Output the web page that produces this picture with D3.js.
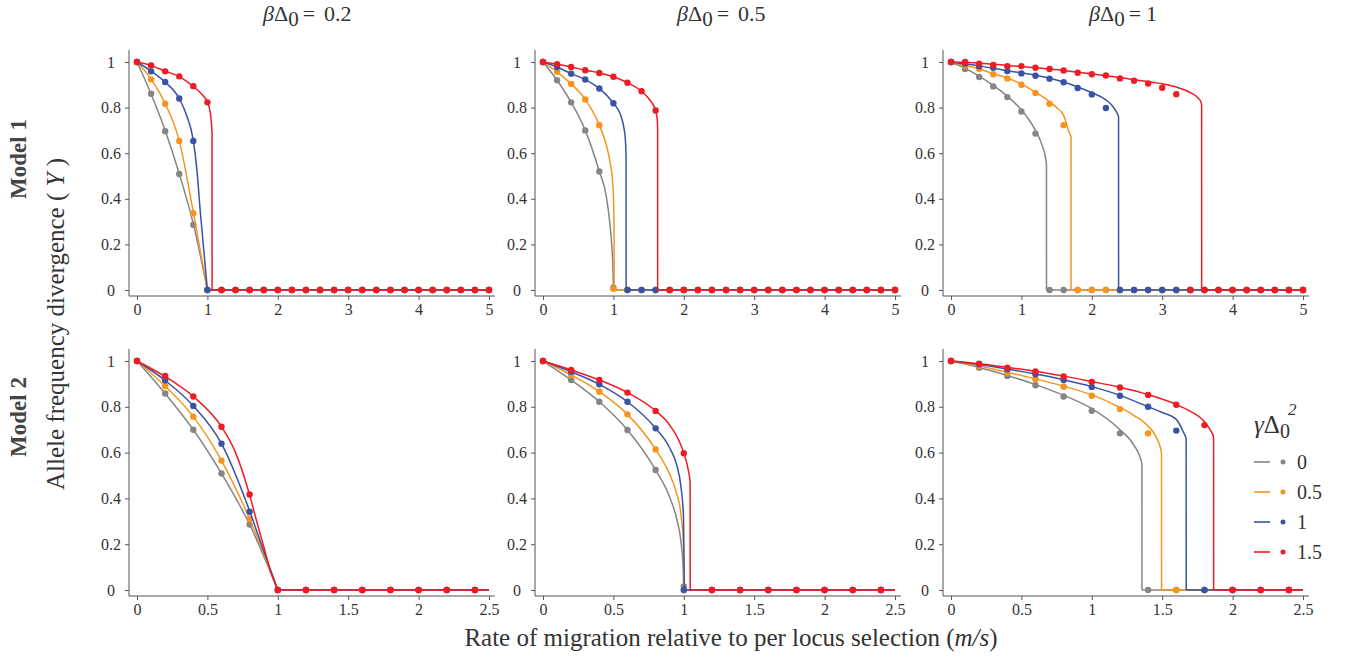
<!DOCTYPE html>
<html>
<head>
<meta charset="utf-8">
<script src="https://cdn.jsdelivr.net/npm/d3@7"></script>
<style>
  body { margin: 0; background: #fff; }
  svg { display: block; }
  text { font-family: "Liberation Serif", "Times New Roman", serif; }
  .tick text { fill: #333; font-size: 16px; font-family: "Liberation Serif", "Times New Roman", serif; }
  .tick line { stroke: #555; }
</style>
</head>
<body>
<svg id="chart" width="1351" height="659"></svg>
<script>
// ---- data ----
const seriesLabels = ['0', '0.5', '1', '1.5'];
const seriesColors = ['#858585', '#f7941d', '#3953a4', '#ed1c24'];
const colTitles = ['0.2', '0.5', '1'];
const rowTitles = ['Model 1', 'Model 2'];

const xTop = [0,0.2,0.4,0.6,0.8,1,1.2,1.4,1.6,1.8,2,2.2,2.4,2.6,2.8,3,3.2,3.4,3.6,3.8,4,4.2,4.4,4.6,4.8,5];
const xBottom = [0,0.2,0.4,0.6,0.8,1,1.2,1.4,1.6,1.8,2,2.2,2.4];
const xTicksTop = [0, 1, 2, 3, 4, 5];
const xTicksBottom = [0, 0.5, 1, 1.5, 2, 2.5];
const yTicks = [0, 0.2, 0.4, 0.6, 0.8, 1];

// simulation dots (one row of y per series: gray, orange, blue, red)
const p1Dots = [
  [1,0.861,0.696,0.509,0.286,0,0,0,0,0,0,0,0,0,0,0,0,0,0,0,0,0,0,0,0,0],
  [1,0.924,0.817,0.654,0.337,0,0,0,0,0,0,0,0,0,0,0,0,0,0,0,0,0,0,0,0,0],
  [1,0.959,0.912,0.840,0.654,0,0,0,0,0,0,0,0,0,0,0,0,0,0,0,0,0,0,0,0,0],
  [1,0.985,0.959,0.937,0.894,0.823,0,0,0,0,0,0,0,0,0,0,0,0,0,0,0,0,0,0,0,0]
];
const p2Dots = [
  [1,0.920,0.823,0.700,0.520,0.01,0,0,0,0,0,0,0,0,0,0,0,0,0,0,0,0,0,0,0,0],
  [1,0.957,0.904,0.836,0.723,0.005,0,0,0,0,0,0,0,0,0,0,0,0,0,0,0,0,0,0,0,0],
  [1,0.978,0.949,0.923,0.884,0.819,0,0,0,0,0,0,0,0,0,0,0,0,0,0,0,0,0,0,0,0],
  [1,0.990,0.978,0.964,0.952,0.935,0.909,0.872,0.787,0,0,0,0,0,0,0,0,0,0,0,0,0,0,0,0,0]
];
const p3Dots = [
  [1,0.969,0.934,0.893,0.846,0.783,0.686,0,0,0,0,0,0,0,0,0,0,0,0,0,0,0,0,0,0,0],
  [1,0.984,0.969,0.946,0.928,0.900,0.864,0.817,0.723,0,0,0,0,0,0,0,0,0,0,0,0,0,0,0,0,0],
  [1,0.993,0.981,0.975,0.960,0.950,0.940,0.927,0.911,0.886,0.858,0.798,0,0,0,0,0,0,0,0,0,0,0,0,0,0],
  [1,1.0,0.993,0.987,0.982,0.982,0.975,0.969,0.963,0.953,0.946,0.941,0.928,0.918,0.906,0.887,0.859,0,0,0,0,0,0,0,0,0]
];
const p4Dots = [
  [1,0.858,0.700,0.509,0.286,0,0,0,0,0,0,0,0],
  [1,0.891,0.757,0.565,0.310,0,0,0,0,0,0,0,0],
  [1,0.916,0.804,0.639,0.342,0,0,0,0,0,0,0,0],
  [1,0.935,0.845,0.713,0.417,0,0,0,0,0,0,0,0]
];
const p5Dots = [
  [1,0.917,0.822,0.699,0.524,0.015,0,0,0,0,0,0,0],
  [1,0.939,0.866,0.767,0.614,0,0,0,0,0,0,0,0],
  [1,0.953,0.898,0.822,0.706,0,0,0,0,0,0,0,0],
  [1,0.961,0.917,0.862,0.782,0.597,0,0,0,0,0,0,0]
];
const p6Dots = [
  [1,0.971,0.935,0.894,0.845,0.783,0.684,0,0,0,0,0,0],
  [1,0.978,0.949,0.920,0.888,0.848,0.790,0.684,0,0,0,0,0],
  [1,0.986,0.964,0.942,0.917,0.887,0.848,0.800,0.696,0,0,0,0],
  [1,0.988,0.971,0.954,0.932,0.909,0.884,0.852,0.809,0.720,0,0,0]
];

// theory curves, [x, y] points per series
const p1Curves = [
  [[0,1],[0.2,0.86],[0.4,0.70],[0.6,0.51],[0.8,0.29],[1.0,0],[5,0]],
  [[0,1],[0.2,0.925],[0.4,0.818],[0.6,0.655],[0.8,0.34],[1.0,0],[5,0]],
  [[0,1],[0.2,0.96],[0.4,0.912],[0.6,0.84],[0.7,0.77],[0.8,0.655],[0.85,0.53],[0.9,0.34],[1.0,0],[5,0]],
  [[0,1],[0.2,0.985],[0.4,0.96],[0.6,0.936],[0.8,0.893],[0.9,0.865],[1.0,0.823],[1.04,0.78],[1.06,0.72],[1.066,0.68],[1.0665,0],[5,0]]
];
const p2Curves = [
  [[0,1],[0.2,0.92],[0.4,0.823],[0.6,0.70],[0.8,0.52],[0.9,0.41],[0.95,0.29],[0.98,0.18],[0.995,0.08],[1.0,0],[5,0]],
  [[0,1],[0.2,0.957],[0.4,0.904],[0.6,0.836],[0.8,0.723],[0.9,0.635],[0.95,0.565],[0.99,0.47],[1.005,0.36],[1.01,0.22],[1.0105,0],[5,0]],
  [[0,1],[0.2,0.978],[0.4,0.949],[0.6,0.923],[0.8,0.884],[1.0,0.819],[1.1,0.77],[1.15,0.71],[1.17,0.66],[1.18,0.58],[1.1805,0],[5,0]],
  [[0,1],[0.2,0.99],[0.4,0.978],[0.6,0.964],[0.8,0.952],[1.0,0.935],[1.2,0.909],[1.4,0.872],[1.5,0.84],[1.6,0.787],[1.62,0.755],[1.628,0.72],[1.6285,0],[5,0]]
];
const p3Curves = [
  [[0,1],[0.2,0.972],[0.4,0.938],[0.6,0.897],[0.8,0.85],[1.0,0.79],[1.1,0.75],[1.2,0.70],[1.3,0.63],[1.34,0.585],[1.356,0.55],[1.3565,0],[5,0]],
  [[0,1],[0.2,0.985],[0.4,0.97],[0.6,0.948],[0.8,0.93],[1.0,0.903],[1.2,0.868],[1.4,0.826],[1.5,0.8],[1.6,0.766],[1.68,0.69],[1.705,0.67],[1.7055,0],[5,0]],
  [[0,1],[0.4,0.983],[0.8,0.962],[1.2,0.942],[1.6,0.912],[1.8,0.89],[2.0,0.866],[2.2,0.834],[2.3,0.805],[2.36,0.775],[2.38,0.76],[2.3805,0],[5,0]],
  [[0,1],[0.4,0.995],[0.8,0.985],[1.2,0.975],[1.6,0.963],[2.0,0.948],[2.4,0.932],[2.8,0.913],[3.0,0.905],[3.2,0.89],[3.4,0.866],[3.5,0.845],[3.55,0.825],[3.56,0.81],[3.5605,0],[5,0]]
];
const p4Curves = [
  [[0,1],[0.2,0.858],[0.4,0.70],[0.6,0.509],[0.8,0.286],[1.0,0],[2.5,0]],
  [[0,1],[0.2,0.89],[0.4,0.757],[0.6,0.565],[0.8,0.31],[1.0,0],[2.5,0]],
  [[0,1],[0.2,0.915],[0.4,0.804],[0.6,0.639],[0.8,0.345],[0.9,0.17],[1.0,0],[2.5,0]],
  [[0,1],[0.2,0.932],[0.4,0.845],[0.6,0.713],[0.7,0.60],[0.8,0.415],[0.85,0.30],[0.9,0.19],[0.95,0.08],[1.0,0],[2.5,0]]
];
const p5Curves = [
  [[0,1],[0.2,0.917],[0.4,0.822],[0.6,0.699],[0.8,0.524],[0.9,0.405],[0.95,0.31],[0.98,0.21],[0.995,0.1],[1.0,0],[2.5,0]],
  [[0,1],[0.2,0.939],[0.4,0.866],[0.6,0.767],[0.8,0.614],[0.9,0.505],[0.95,0.42],[0.98,0.33],[0.997,0.2],[1.002,0],[2.5,0]],
  [[0,1],[0.2,0.953],[0.4,0.898],[0.6,0.822],[0.8,0.706],[0.9,0.62],[0.95,0.545],[0.98,0.45],[0.998,0.32],[1.004,0],[2.5,0]],
  [[0,1],[0.2,0.961],[0.4,0.917],[0.6,0.862],[0.8,0.782],[0.9,0.72],[1.0,0.598],[1.03,0.53],[1.045,0.47],[1.0455,0],[2.5,0]]
];
const p6Curves = [
  [[0,1],[0.2,0.972],[0.4,0.937],[0.6,0.897],[0.8,0.85],[1.0,0.792],[1.2,0.70],[1.3,0.632],[1.34,0.585],[1.356,0.55],[1.3565,0],[2.5,0]],
  [[0,1],[0.2,0.978],[0.4,0.951],[0.6,0.922],[0.8,0.89],[1.0,0.852],[1.2,0.797],[1.3,0.762],[1.4,0.715],[1.46,0.665],[1.495,0.60],[1.4955,0],[2.5,0]],
  [[0,1],[0.2,0.985],[0.4,0.965],[0.6,0.943],[0.8,0.918],[1.0,0.888],[1.2,0.85],[1.4,0.80],[1.5,0.775],[1.6,0.745],[1.65,0.69],[1.67,0.66],[1.6705,0],[2.5,0]],
  [[0,1],[0.2,0.988],[0.4,0.972],[0.6,0.955],[0.8,0.934],[1.0,0.91],[1.2,0.885],[1.4,0.853],[1.6,0.81],[1.7,0.78],[1.8,0.735],[1.84,0.70],[1.865,0.667],[1.8655,0],[2.5,0]]
];

// ---- layout ----
const svg = d3.select('#chart');
const serif = '"Liberation Serif", "Times New Roman", serif';
const colX = [137, 543, 951];
const plotW = 352;
const rows = [{ y0: 290, y1: 62 }, { y0: 590, y1: 361 }];
const axisColor = '#555';

const panels = [
  { row: 0, col: 0, dots: p1Dots, curves: p1Curves },
  { row: 0, col: 1, dots: p2Dots, curves: p2Curves },
  { row: 0, col: 2, dots: p3Dots, curves: p3Curves },
  { row: 1, col: 0, dots: p4Dots, curves: p4Curves },
  { row: 1, col: 1, dots: p5Dots, curves: p5Curves },
  { row: 1, col: 2, dots: p6Dots, curves: p6Curves }
];

panels.forEach(p => {
  const top = p.row === 0;
  const xMax = top ? 5 : 2.5;
  const xs = top ? xTop : xBottom;
  const x0 = colX[p.col];
  const r = rows[p.row];

  const x = d3.scaleLinear().domain([0, xMax]).range([x0, x0 + plotW]);
  const y = d3.scaleLinear().domain([0, 1]).range([r.y0, r.y1]);

  const g = svg.append('g');
  const axisX = x0 - 8;
  const axisY = r.y0 + 6;

  // axis lines
  g.append('line')
    .attr('x1', axisX).attr('x2', axisX)
    .attr('y1', y(1.053)).attr('y2', axisY)
    .attr('stroke', axisColor).attr('stroke-width', 1);
  g.append('line')
    .attr('x1', axisX).attr('x2', x(xMax) + 6)
    .attr('y1', axisY).attr('y2', axisY)
    .attr('stroke', axisColor).attr('stroke-width', 1);

  // x axis ticks
  g.append('g')
    .attr('transform', `translate(0,${axisY})`)
    .call(d3.axisBottom(x)
      .tickValues(top ? xTicksTop : xTicksBottom)
      .tickSize(4).tickPadding(4)
      .tickFormat(d3.format('~g')))
    .call(a => a.select('.domain').remove())
    .attr('font-family', serif);

  // y axis ticks, labels centred like the original
  g.append('g')
    .attr('transform', `translate(${axisX},0)`)
    .call(d3.axisLeft(y).tickValues(yTicks).tickSize(4).tickFormat(d3.format('~g')))
    .call(a => a.select('.domain').remove())
    .attr('font-family', serif)
    .selectAll('text')
    .attr('x', -18)
    .attr('text-anchor', 'middle');

  const smooth = d3.line().x(d => x(d[0])).y(d => y(d[1])).curve(d3.curveMonotoneX);
  const straight = d3.line().x(d => x(d[0])).y(d => y(d[1]));

  seriesColors.forEach((color, i) => {
    const pts = p.curves[i];
    const zi = pts.findIndex(d => d[1] === 0);
    // smooth part up to where the curve reaches zero, then a flat run
    g.append('path')
      .attr('d', smooth(pts.slice(0, zi + 1)))
      .attr('fill', 'none').attr('stroke', color).attr('stroke-width', 1.5);
    g.append('path')
      .attr('d', straight(pts.slice(zi)))
      .attr('fill', 'none').attr('stroke', color).attr('stroke-width', 1.5);

    g.append('g').selectAll('circle')
      .data(p.dots[i])
      .join('circle')
      .attr('cx', (d, k) => x(xs[k]))
      .attr('cy', d => y(d))
      .attr('r', 3.2)
      .attr('fill', color);
  });
});

// ---- column titles ----
const titleX = [263, 677, 1089];
colTitles.forEach((t, i) => {
  const txt = svg.append('text')
    .attr('x', titleX[i]).attr('y', 21)
    .attr('fill', '#333')
    .style('font-size', '22px');
  txt.append('tspan').style('font-style', 'italic').text('β');
  txt.append('tspan').text('Δ');
  txt.append('tspan').attr('dy', 5).style('font-size', '21px').text('0');
  txt.append('tspan').attr('dy', -5).attr('dx', 4).text('=');
  txt.append('tspan').attr('dx', i === 2 ? 5 : 9).text(t);
});

// ---- row titles ----
const rowCenters = [159, 417];
rowTitles.forEach((t, i) => {
  svg.append('text')
    .attr('transform', `translate(26,${rowCenters[i]}) rotate(-90)`)
    .attr('text-anchor', 'middle')
    .attr('fill', '#444')
    .style('font-size', '23px')
    .style('font-weight', 'bold')
    .text(t);
});

// ---- axis titles ----
const yLab = svg.append('text')
  .attr('transform', 'translate(64,324) rotate(-90)')
  .attr('text-anchor', 'middle')
  .attr('fill', '#333')
  .style('font-size', '25px');
yLab.append('tspan').text('Allele frequency divergence ( ');
yLab.append('tspan').style('font-style', 'italic').text('Y');
yLab.append('tspan').text(' )');

const xLab = svg.append('text')
  .attr('x', 731).attr('y', 646)
  .attr('text-anchor', 'middle')
  .attr('fill', '#333')
  .style('font-size', '25px');
xLab.append('tspan').text('Rate of migration relative to per locus selection (');
xLab.append('tspan').style('font-style', 'italic').text('m/s');
xLab.append('tspan').text(')');

// ---- legend ----
const leg = svg.append('g');
const legTitle = leg.append('text')
  .attr('x', 1254).attr('y', 433)
  .attr('fill', '#333')
  .style('font-size', '25px');
legTitle.append('tspan').style('font-style', 'italic').text('γ');
legTitle.append('tspan').text('Δ');
legTitle.append('tspan').attr('dy', 5).style('font-size', '20px').text('0');
legTitle.append('tspan').attr('dx', -2).attr('dy', -23).style('font-size', '17px').style('font-style', 'italic').text('2');

seriesLabels.forEach((lab, i) => {
  const ly = 462 + i * 30;
  leg.append('line')
    .attr('x1', 1254).attr('x2', 1270).attr('y1', ly).attr('y2', ly)
    .attr('stroke', seriesColors[i]).attr('stroke-width', 1.6);
  leg.append('circle')
    .attr('cx', 1283).attr('cy', ly).attr('r', 2.5)
    .attr('fill', seriesColors[i]);
  leg.append('text')
    .attr('x', 1297).attr('y', ly + 7)
    .attr('fill', '#333')
    .style('font-size', '20px')
    .text(lab);
});
</script>
</body>
</html>
